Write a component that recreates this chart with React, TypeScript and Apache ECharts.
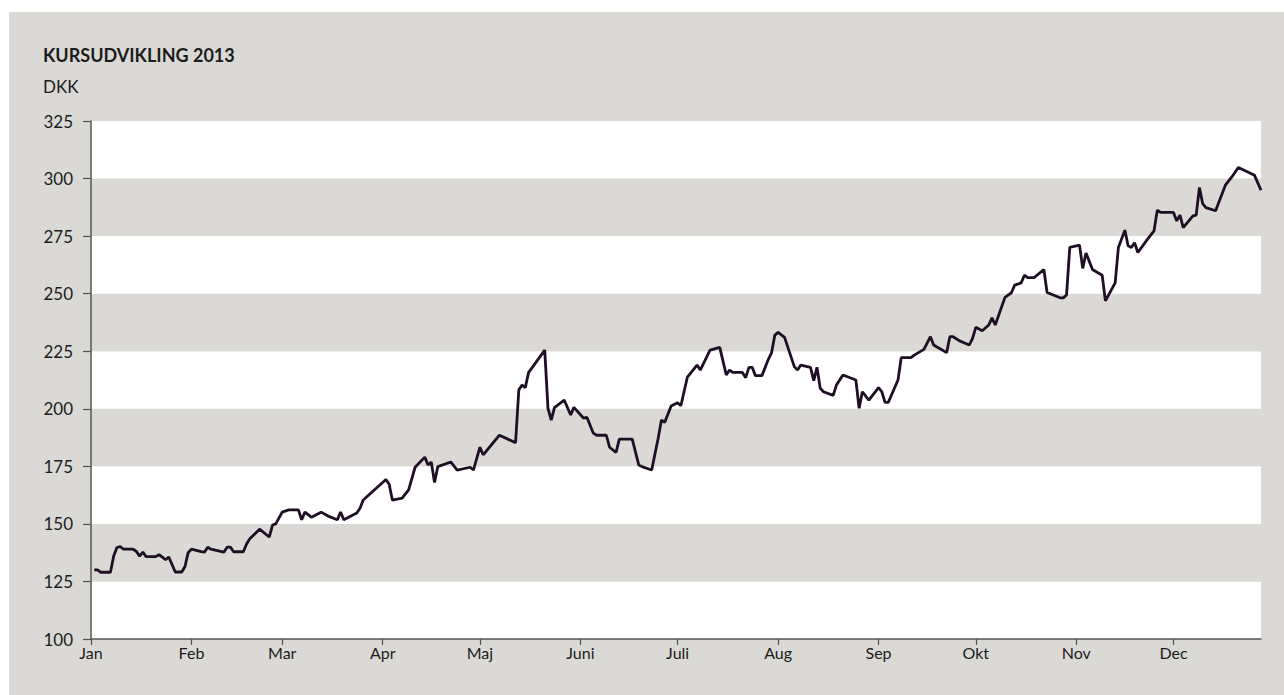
import React, { useEffect, useRef } from "react";
import * as echarts from "echarts";

const TITLE = "KURSUDVIKLING 2013";
const UNIT = "DKK";
const MONTH_LABELS = ["Jan", "Feb", "Mar", "Apr", "Maj", "Juni", "Juli", "Aug", "Sep", "Okt", "Nov", "Dec"];
const Y_TICKS = [100, 125, 150, 175, 200, 225, 250, 275, 300, 325];

const DATES = [
  "01-02", "01-03", "01-04", "01-07", "01-08", "01-09", "01-10", "01-11", "01-14", "01-15",
  "01-16", "01-17", "01-18", "01-21", "01-22", "01-23", "01-24", "01-25", "01-27", "01-29",
  "01-30", "01-31", "02-01", "02-04", "02-05", "02-06", "02-07", "02-11", "02-12", "02-13",
  "02-14", "02-17", "02-18", "02-19", "02-22", "02-25", "02-26", "02-27", "03-01", "03-03",
  "03-06", "03-07", "03-08", "03-10", "03-13", "03-15", "03-18", "03-19", "03-20", "03-24",
  "03-25", "03-26", "04-02", "04-03", "04-04", "04-07", "04-09", "04-11", "04-14", "04-15",
  "04-16", "04-17", "04-18", "04-22", "04-24", "04-28", "04-29", "05-01", "05-02", "05-07",
  "05-12", "05-13", "05-14", "05-15", "05-16", "05-21", "05-22", "05-23", "05-24", "05-27",
  "05-29", "05-30", "06-02", "06-03", "06-05", "06-06", "06-09", "06-10", "06-12", "06-13",
  "06-17", "06-19", "06-20", "06-23", "06-25", "06-26", "06-27", "06-29", "07-01", "07-02",
  "07-04", "07-07", "07-08", "07-11", "07-14", "07-16", "07-17", "07-18", "07-21", "07-22",
  "07-23", "07-24", "07-25", "07-27", "07-29", "07-30", "07-31", "08-01", "08-03", "08-06",
  "08-07", "08-08", "08-11", "08-12", "08-13", "08-14", "08-15", "08-18", "08-19", "08-21",
  "08-25", "08-26", "08-27", "08-29", "09-01", "09-02", "09-03", "09-04", "09-07", "09-08",
  "09-11", "09-12", "09-15", "09-17", "09-18", "09-22", "09-23", "09-24", "09-26", "09-29",
  "09-30", "10-01", "10-03", "10-05", "10-06", "10-07", "10-10", "10-12", "10-13", "10-15",
  "10-16", "10-17", "10-19", "10-22", "10-23", "10-27", "10-28", "10-29", "10-30", "11-02",
  "11-03", "11-04", "11-06", "11-09", "11-10", "11-13", "11-14", "11-16", "11-17", "11-18",
  "11-19", "11-20", "11-23", "11-25", "11-26", "11-27", "12-01", "12-02", "12-03", "12-04",
  "12-07", "12-08", "12-09", "12-10", "12-11", "12-14", "12-17", "12-19", "12-21", "12-26",
  "12-28",
];

const PRICES = [
  130, 130, 129, 129, 136, 139.7, 140.2, 139, 139, 138,
  136, 137.7, 135.8, 135.8, 136.6, 135.6, 134.4, 135.6, 129.1, 129.1,
  131.5, 137.6, 139, 138, 137.7, 139.9, 139, 137.7, 139.9, 139.9,
  137.9, 137.9, 141.3, 143.5, 147.7, 144.3, 149.5, 150, 155.1, 156.1,
  156.1, 151.8, 155.1, 152.9, 155.1, 153.5, 151.8, 155.2, 151.8, 154.7,
  156.8, 160.4, 169.3, 167.2, 160.3, 161.2, 164.8, 174.6, 179, 175.6,
  176.8, 168, 174.9, 176.9, 173.4, 174.6, 173.4, 183.3, 180, 188.5,
  185.3, 208.2, 210.3, 209.2, 215.7, 225.5, 200.2, 195.1, 200.5, 203.8,
  197.3, 200.6, 195.9, 196.3, 189.4, 188.5, 188.5, 183.3, 181, 186.8,
  186.8, 175.6, 174.9, 173.4, 187.2, 195.1, 194.1, 201.2, 202.6, 201.3,
  213.7, 219, 216.8, 225.5, 226.7, 214.7, 216.8, 215.8, 215.8, 213.5,
  218, 218, 214.4, 214.4, 221.5, 224.4, 232, 233.2, 231, 218.3,
  216.8, 219, 218, 212.2, 218, 208.9, 207.4, 205.8, 210.3, 214.7,
  212.5, 200.2, 207.4, 203.8, 209.2, 207.4, 202.8, 202.8, 212.5, 222.2,
  222.2, 223.3, 225.8, 231.3, 227.7, 224.4, 231.3, 231.3, 229.5, 227.7,
  230.6, 235.4, 233.9, 236.4, 239.5, 236.4, 248.4, 250.4, 253.7, 254.7,
  258, 257, 257, 260.5, 250.5, 248.2, 248.2, 249.4, 270.1, 271.1,
  261, 267.7, 260.5, 258, 246.9, 254.7, 270.1, 277.6, 270.8, 270.1,
  272.1, 267.9, 273.7, 277.3, 286.3, 285.3, 285.3, 281.6, 284.1, 278.7,
  283.8, 284.1, 296.1, 289.1, 287.4, 286, 297.1, 300.7, 304.8, 301.4,
  294.9,
];

const YEAR = 2013;
const AXIS_END = "12-28";

const ts = (md: string) => {
  const [m, d] = md.split("-").map(Number);
  return Date.UTC(YEAR, m - 1, d);
};

const BG = "#dbd9d6";
const INK = "#1c1c1c";
const FONT = "Lato, 'Open Sans', sans-serif";

export default function App() {
  const ref = useRef<HTMLDivElement>(null);

  useEffect(() => {
    if (!ref.current) return;
    const chart = echarts.init(ref.current, undefined, { renderer: "svg" });
    const monthStarts = MONTH_LABELS.map((_, i) => Date.UTC(YEAR, i, 1));
    const data = DATES.map((d, i) => [ts(d), PRICES[i]]);

    chart.setOption({
      animation: false,
      backgroundColor: "#ffffff",
      textStyle: { fontFamily: FONT },
      graphic: [
        {
          type: "rect",
          z: -10,
          silent: true,
          shape: { x: 9, y: 12, width: 1284 - 9, height: 695 - 12 },
          style: { fill: BG },
        },
        {
          type: "text",
          left: 43,
          top: 46,
          style: { text: TITLE, fill: INK, font: `bold 18px ${FONT}` },
        },
        {
          type: "text",
          left: 43,
          top: 78,
          style: { text: UNIT, fill: INK, font: `17px ${FONT}` },
        },
      ],
      grid: { left: 91, top: 121, right: 23, bottom: 56, containLabel: false },
      xAxis: {
        type: "value",
        min: ts("01-01"),
        max: ts(AXIS_END),
        axisLine: { show: true, lineStyle: { color: "#555555", width: 1.5 } },
        axisTick: { show: true, length: 6, lineStyle: { color: "#555555", width: 1.2 }, customValues: monthStarts },
        axisLabel: {
          customValues: monthStarts,
          color: INK,
          fontSize: 16,
          fontFamily: FONT,
          margin: 5,
          formatter: (v: number) => MONTH_LABELS[new Date(v).getUTCMonth()],
        },
        splitLine: { show: false },
      },
      yAxis: {
        type: "value",
        min: Y_TICKS[0],
        max: Y_TICKS[Y_TICKS.length - 1],
        interval: 25,
        axisLine: { show: true, lineStyle: { color: "#555555", width: 1.5 } },
        axisTick: { show: true, length: 8, lineStyle: { color: "#555555", width: 1.2 } },
        axisLabel: { color: INK, fontSize: 17, fontFamily: FONT, margin: 18 },
        splitLine: { show: false },
        splitArea: { show: true, areaStyle: { color: ["#ffffff", BG] } },
      },
      series: [
        {
          type: "line",
          data,
          showSymbol: false,
          symbol: "none",
          lineStyle: { color: "#1e0f24", width: 2.8 },
        },
      ],
    });

    return () => chart.dispose();
  }, []);

  return (
    <div
      ref={ref}
      style={{ position: "absolute", left: 0, top: 0, width: 1284, height: 695 }}
    />
  );
}
